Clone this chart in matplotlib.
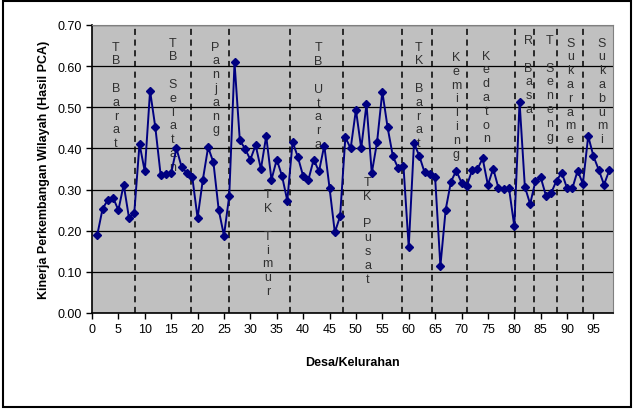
import numpy as np
import matplotlib.pyplot as plt
from matplotlib.patches import Rectangle

# Kinerja perkembangan wilayah tiap desa/kelurahan (hasil PCA)
desa = np.arange(1, 99)
kinerja = [
    0.190, 0.253, 0.275, 0.280, 0.250, 0.312, 0.232, 0.242, 0.411, 0.344,
    0.540, 0.451, 0.336, 0.338, 0.340, 0.400, 0.354, 0.340, 0.330, 0.231,
    0.324, 0.403, 0.366, 0.251, 0.188, 0.285, 0.609, 0.420, 0.399, 0.373,
    0.408, 0.350, 0.430, 0.324, 0.373, 0.333, 0.273, 0.416, 0.379, 0.333,
    0.324, 0.373, 0.344, 0.407, 0.304, 0.196, 0.235, 0.427, 0.400, 0.494,
    0.400, 0.508, 0.340, 0.415, 0.538, 0.451, 0.381, 0.352, 0.358, 0.160,
    0.413, 0.382, 0.342, 0.338, 0.330, 0.114, 0.251, 0.319, 0.346, 0.317,
    0.309, 0.347, 0.349, 0.376, 0.311, 0.351, 0.304, 0.301, 0.303, 0.211,
    0.513, 0.307, 0.265, 0.320, 0.330, 0.285, 0.292, 0.322, 0.341, 0.303,
    0.303, 0.346, 0.314, 0.430, 0.381, 0.348, 0.312, 0.347,
]

# batas kecamatan (garis putus-putus)
batas = [8.2, 18.8, 26.0, 37.6, 47.6, 58.8, 64.5, 71.1, 80.2, 83.8, 88.0, 93.0]

kecamatan = ["TB Barat", "TB Selatan", "Panjang", "TK Timur", "TB Utara",
             "TK Pusat", "TK Barat", "Kemiling", "Kedaton", "R Basa",
             "T Seneng", "Sukarame", "Sukabumi"]
label_x = [4.5, 15.3, 23.4, 33.3, 42.9, 52.2, 61.9, 69.0, 74.7, 82.7, 86.7, 90.6, 96.6]
label_y = [0.662, 0.672, 0.662, 0.303, 0.660, 0.333, 0.662, 0.637, 0.640, 0.678, 0.678, 0.672, 0.672]

plt.rcParams["font.family"] = ["Liberation Sans", "DejaVu Sans"]

fig = plt.figure(figsize=(6.34, 4.10), dpi=100)
ax = fig.add_axes([92 / 634, 96 / 410, 521 / 634, 288 / 410])
ax.set_facecolor("#c0c0c0")

ax.plot(desa, kinerja, color="#000080", linewidth=1.4, marker="D",
        markersize=4.5, zorder=4)

for b in batas:
    ax.axvline(b, color="black", linestyle=(0, (4, 3)), linewidth=1.1, zorder=3)

for nama, lx, ly in zip(kecamatan, label_x, label_y):
    ax.text(lx, ly, "\n".join(nama), ha="center", va="top", fontsize=9,
            linespacing=1.2, color="#303030", zorder=2)

ax.set_xlim(0, 98.7)
ax.set_ylim(0, 0.7)
ax.set_xticks(np.arange(0, 100, 5))
ax.set_yticks(np.arange(0, 0.71, 0.1))
ax.set_yticklabels([f"{v:.2f}" for v in np.arange(0, 0.71, 0.1)])
ax.yaxis.grid(True, color="black", linewidth=0.9, zorder=1)
ax.set_axisbelow(True)
ax.tick_params(labelsize=9, length=4, width=1, direction="out")

for side in ["top", "right"]:
    ax.spines[side].set_color("#808080")
for side in ["left", "bottom"]:
    ax.spines[side].set_color("black")
    ax.spines[side].set_linewidth(1.2)

ax.set_xlabel("Desa/Kelurahan", fontsize=9, fontweight="bold", labelpad=15)
ax.set_ylabel("Kinerja Perkembangan Wilayah (Hasil PCA)", fontsize=9,
              fontweight="bold", labelpad=5)

fig.patches.append(Rectangle((0.004, 0.006), 0.992, 0.988, transform=fig.transFigure,
                             fill=False, edgecolor="black", linewidth=1.5))

fig.savefig("out.png", dpi=100)
